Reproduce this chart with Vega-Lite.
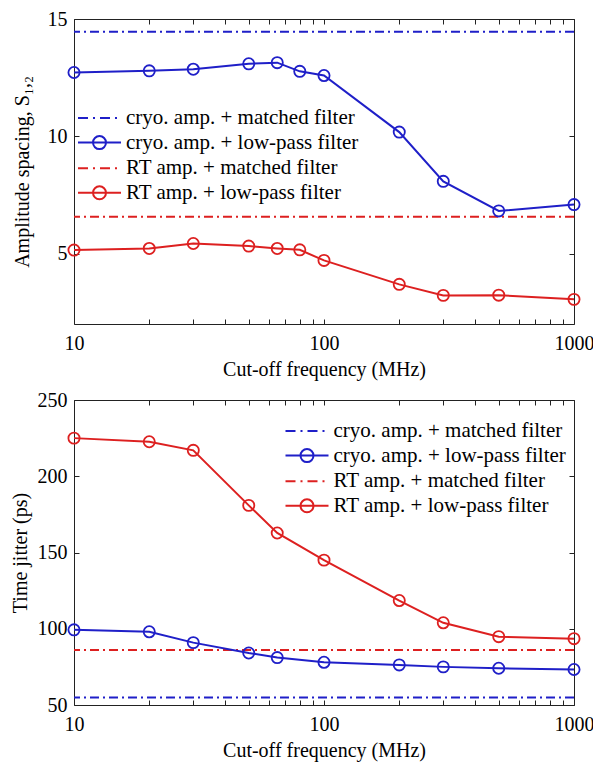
{
  "$schema": "https://vega.github.io/schema/vega-lite/v6.json",
  "padding": {"left": 9, "top": 8, "right": 2, "bottom": 5},
  "bounds": "flush",
  "spacing": 76,
  "resolve": {"scale": {"color": "independent"}, "legend": {"color": "independent"}},
  "config": {
    "font": "Liberation Serif",
    "view": {"stroke": "#222", "strokeWidth": 1},
    "axis": {"grid": false, "domain": false, "labelFont": "Liberation Serif", "labelFontSize": 20, "labelColor": "#000", "titleFont": "Liberation Serif", "titleFontSize": 20, "titleFontWeight": "normal", "titleColor": "#000", "tickColor": "#222", "tickSize": -5, "labelPadding": 12, "labelFlush": false, "labelOverlap": false},
    "legend": {"labelFont": "Liberation Serif", "labelFontSize": 21, "labelColor": "#000", "labelLimit": 0, "symbolStrokeWidth": 2, "padding": 0, "rowPadding": 3.6, "symbolSize": 400, "labelOffset": 15.5, "title": null, "orient": "none"}
  },
  "datasets": {
    "amp_mf": [
      {"series": "cryo. amp. + matched filter", "value": 14.46},
      {"series": "RT amp. + matched filter", "value": 6.57}
    ],
    "amp_lp": [
      {"series": "cryo. amp. + low-pass filter", "freq": 10, "value": 12.72},
      {"series": "cryo. amp. + low-pass filter", "freq": 20, "value": 12.79},
      {"series": "cryo. amp. + low-pass filter", "freq": 30, "value": 12.86},
      {"series": "cryo. amp. + low-pass filter", "freq": 50, "value": 13.09},
      {"series": "cryo. amp. + low-pass filter", "freq": 65, "value": 13.14},
      {"series": "cryo. amp. + low-pass filter", "freq": 80, "value": 12.77},
      {"series": "cryo. amp. + low-pass filter", "freq": 100, "value": 12.59},
      {"series": "cryo. amp. + low-pass filter", "freq": 200, "value": 10.18},
      {"series": "cryo. amp. + low-pass filter", "freq": 300, "value": 8.08},
      {"series": "cryo. amp. + low-pass filter", "freq": 500, "value": 6.82},
      {"series": "cryo. amp. + low-pass filter", "freq": 1000, "value": 7.09},
      {"series": "RT amp. + low-pass filter", "freq": 10, "value": 5.15},
      {"series": "RT amp. + low-pass filter", "freq": 20, "value": 5.22},
      {"series": "RT amp. + low-pass filter", "freq": 30, "value": 5.43},
      {"series": "RT amp. + low-pass filter", "freq": 50, "value": 5.32},
      {"series": "RT amp. + low-pass filter", "freq": 65, "value": 5.22},
      {"series": "RT amp. + low-pass filter", "freq": 80, "value": 5.16},
      {"series": "RT amp. + low-pass filter", "freq": 100, "value": 4.71},
      {"series": "RT amp. + low-pass filter", "freq": 200, "value": 3.69},
      {"series": "RT amp. + low-pass filter", "freq": 300, "value": 3.22},
      {"series": "RT amp. + low-pass filter", "freq": 500, "value": 3.23},
      {"series": "RT amp. + low-pass filter", "freq": 1000, "value": 3.05}
    ],
    "jit_mf": [
      {"series": "cryo. amp. + matched filter", "value": 55.0},
      {"series": "RT amp. + matched filter", "value": 86.1}
    ],
    "jit_lp": [
      {"series": "cryo. amp. + low-pass filter", "freq": 10, "value": 99.3},
      {"series": "cryo. amp. + low-pass filter", "freq": 20, "value": 98.0},
      {"series": "cryo. amp. + low-pass filter", "freq": 30, "value": 90.9},
      {"series": "cryo. amp. + low-pass filter", "freq": 50, "value": 84.1},
      {"series": "cryo. amp. + low-pass filter", "freq": 65, "value": 81.1},
      {"series": "cryo. amp. + low-pass filter", "freq": 100, "value": 78.0},
      {"series": "cryo. amp. + low-pass filter", "freq": 200, "value": 76.3},
      {"series": "cryo. amp. + low-pass filter", "freq": 300, "value": 75.0},
      {"series": "cryo. amp. + low-pass filter", "freq": 500, "value": 74.1},
      {"series": "cryo. amp. + low-pass filter", "freq": 1000, "value": 73.3},
      {"series": "RT amp. + low-pass filter", "freq": 10, "value": 225.0},
      {"series": "RT amp. + low-pass filter", "freq": 20, "value": 222.6},
      {"series": "RT amp. + low-pass filter", "freq": 30, "value": 217.0},
      {"series": "RT amp. + low-pass filter", "freq": 50, "value": 180.9},
      {"series": "RT amp. + low-pass filter", "freq": 65, "value": 162.8},
      {"series": "RT amp. + low-pass filter", "freq": 100, "value": 145.0},
      {"series": "RT amp. + low-pass filter", "freq": 200, "value": 118.5},
      {"series": "RT amp. + low-pass filter", "freq": 300, "value": 103.9},
      {"series": "RT amp. + low-pass filter", "freq": 500, "value": 94.8},
      {"series": "RT amp. + low-pass filter", "freq": 1000, "value": 93.5}
    ]
  },
  "vconcat": [
    {
      "width": 500,
      "height": 305,
      "resolve": {"axis": {"x": "independent", "y": "independent"}},
      "layer": [
        {
          "data": {"name": "amp_mf"},
          "mark": {"type": "rule", "strokeWidth": 2, "strokeDash": [9, 4, 2, 4]},
          "encoding": {
            "y": {"field": "value", "type": "quantitative", "scale": {"domain": [2, 15], "nice": false}, "axis": null},
            "color": {"field": "series", "type": "nominal",
              "scale": {"domain": ["cryo. amp. + matched filter", "cryo. amp. + low-pass filter", "RT amp. + matched filter", "RT amp. + low-pass filter"], "range": ["#1f1fc8", "#1f1fc8", "#dd2020", "#dd2020"]},
              "legend": {"legendX": 14.5, "legendY": 88,
                "encode": {"symbols": {"update": {
                  "shape": {"signal": "indexof(datum.value, 'low-pass') >= 0 ? 'M-2.15,0H2.15M0.65,0A0.65,0.65 0 1,1 -0.65,0A0.65,0.65 0 1,1 0.65,0' : 'M-2.15,0H2.15'"},
                  "strokeDash": {"signal": "indexof(datum.value, 'matched') >= 0 ? [10, 5, 2, 5] : []"},
                  "fill": {"value": "transparent"}}}}}}
          }
        },
        {
          "data": {"name": "amp_lp"},
          "mark": {"type": "line", "strokeWidth": 2},
          "encoding": {
            "x": {"field": "freq", "type": "quantitative", "scale": {"type": "log", "domain": [10, 1000], "nice": false},
              "axis": {"orient": "bottom", "title": "Cut-off frequency (MHz)", "values": [10, 20, 30, 40, 50, 60, 70, 80, 90, 100, 200, 300, 400, 500, 600, 700, 800, 900, 1000], "labelExpr": "(datum.value == 10 || datum.value == 100 || datum.value == 1000) ? format(datum.value, 'd') : ''", "labelPadding": 14, "titlePadding": 6}},
            "y": {"field": "value", "type": "quantitative", "scale": {"domain": [2, 15], "nice": false},
              "axis": {"orient": "left", "values": [5, 10, 15], "title": "Amplitude spacing, S₁,₂", "labelPadding": 12, "titleX": -52, "titleBaseline": "middle"}},
            "color": {"field": "series", "type": "nominal",
              "legend": {"legendX": 14.5, "legendY": 88,
                "encode": {"symbols": {"update": {
                  "shape": {"signal": "indexof(datum.value, 'low-pass') >= 0 ? 'M-2.15,0H2.15M0.65,0A0.65,0.65 0 1,1 -0.65,0A0.65,0.65 0 1,1 0.65,0' : 'M-2.15,0H2.15'"},
                  "strokeDash": {"signal": "indexof(datum.value, 'matched') >= 0 ? [10, 5, 2, 5] : []"},
                  "fill": {"value": "transparent"}}}}}}
          }
        },
        {
          "data": {"name": "amp_lp"},
          "mark": {"type": "point", "shape": "circle", "filled": false, "size": 125, "strokeWidth": 1.8, "opacity": 1},
          "encoding": {
            "x": {"field": "freq", "type": "quantitative", "scale": {"type": "log", "domain": [10, 1000], "nice": false},
              "axis": {"orient": "top", "title": null, "labels": false, "values": [10, 20, 30, 40, 50, 60, 70, 80, 90, 100, 200, 300, 400, 500, 600, 700, 800, 900, 1000]}},
            "y": {"field": "value", "type": "quantitative", "scale": {"domain": [2, 15], "nice": false},
              "axis": {"orient": "right", "values": [5, 10, 15], "title": null, "labels": false}},
            "color": {"field": "series", "type": "nominal",
              "legend": {"legendX": 14.5, "legendY": 88,
                "encode": {"symbols": {"update": {
                  "shape": {"signal": "indexof(datum.value, 'low-pass') >= 0 ? 'M-2.15,0H2.15M0.65,0A0.65,0.65 0 1,1 -0.65,0A0.65,0.65 0 1,1 0.65,0' : 'M-2.15,0H2.15'"},
                  "strokeDash": {"signal": "indexof(datum.value, 'matched') >= 0 ? [10, 5, 2, 5] : []"},
                  "fill": {"value": "transparent"}}}}}}
          }
        }
      ]
    },
    {
      "width": 500,
      "height": 305,
      "resolve": {"axis": {"x": "independent", "y": "independent"}},
      "layer": [
        {
          "data": {"name": "jit_mf"},
          "mark": {"type": "rule", "strokeWidth": 2, "strokeDash": [9, 4, 2, 4]},
          "encoding": {
            "y": {"field": "value", "type": "quantitative", "scale": {"domain": [50, 250], "nice": false}, "axis": null},
            "color": {"field": "series", "type": "nominal",
              "scale": {"domain": ["cryo. amp. + matched filter", "cryo. amp. + low-pass filter", "RT amp. + matched filter", "RT amp. + low-pass filter"], "range": ["#1f1fc8", "#1f1fc8", "#dd2020", "#dd2020"]},
              "legend": {"legendX": 222, "legendY": 20,
                "encode": {"symbols": {"update": {
                  "shape": {"signal": "indexof(datum.value, 'low-pass') >= 0 ? 'M-2.15,0H2.15M0.65,0A0.65,0.65 0 1,1 -0.65,0A0.65,0.65 0 1,1 0.65,0' : 'M-2.15,0H2.15'"},
                  "strokeDash": {"signal": "indexof(datum.value, 'matched') >= 0 ? [10, 5, 2, 5] : []"},
                  "fill": {"value": "transparent"}}}}}}
          }
        },
        {
          "data": {"name": "jit_lp"},
          "mark": {"type": "line", "strokeWidth": 2},
          "encoding": {
            "x": {"field": "freq", "type": "quantitative", "scale": {"type": "log", "domain": [10, 1000], "nice": false},
              "axis": {"orient": "bottom", "title": "Cut-off frequency (MHz)", "values": [10, 20, 30, 40, 50, 60, 70, 80, 90, 100, 200, 300, 400, 500, 600, 700, 800, 900, 1000], "labelExpr": "(datum.value == 10 || datum.value == 100 || datum.value == 1000) ? format(datum.value, 'd') : ''", "labelPadding": 14, "titlePadding": 6}},
            "y": {"field": "value", "type": "quantitative", "scale": {"domain": [50, 250], "nice": false},
              "axis": {"orient": "left", "values": [50, 100, 150, 200, 250], "title": "Time jitter (ps)", "labelPadding": 12, "titleX": -54, "titleBaseline": "middle"}},
            "color": {"field": "series", "type": "nominal",
              "legend": {"legendX": 222, "legendY": 20,
                "encode": {"symbols": {"update": {
                  "shape": {"signal": "indexof(datum.value, 'low-pass') >= 0 ? 'M-2.15,0H2.15M0.65,0A0.65,0.65 0 1,1 -0.65,0A0.65,0.65 0 1,1 0.65,0' : 'M-2.15,0H2.15'"},
                  "strokeDash": {"signal": "indexof(datum.value, 'matched') >= 0 ? [10, 5, 2, 5] : []"},
                  "fill": {"value": "transparent"}}}}}}
          }
        },
        {
          "data": {"name": "jit_lp"},
          "mark": {"type": "point", "shape": "circle", "filled": false, "size": 125, "strokeWidth": 1.8, "opacity": 1},
          "encoding": {
            "x": {"field": "freq", "type": "quantitative", "scale": {"type": "log", "domain": [10, 1000], "nice": false},
              "axis": {"orient": "top", "title": null, "labels": false, "values": [10, 20, 30, 40, 50, 60, 70, 80, 90, 100, 200, 300, 400, 500, 600, 700, 800, 900, 1000]}},
            "y": {"field": "value", "type": "quantitative", "scale": {"domain": [50, 250], "nice": false},
              "axis": {"orient": "right", "values": [50, 100, 150, 200, 250], "title": null, "labels": false}},
            "color": {"field": "series", "type": "nominal",
              "legend": {"legendX": 222, "legendY": 20,
                "encode": {"symbols": {"update": {
                  "shape": {"signal": "indexof(datum.value, 'low-pass') >= 0 ? 'M-2.15,0H2.15M0.65,0A0.65,0.65 0 1,1 -0.65,0A0.65,0.65 0 1,1 0.65,0' : 'M-2.15,0H2.15'"},
                  "strokeDash": {"signal": "indexof(datum.value, 'matched') >= 0 ? [10, 5, 2, 5] : []"},
                  "fill": {"value": "transparent"}}}}}}
          }
        }
      ]
    }
  ]
}
